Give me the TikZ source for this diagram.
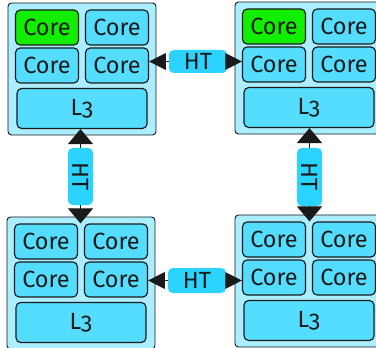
\documentclass[tikz,border=0pt]{standalone}
\usepackage{fontspec}
\setmainfont{Fira Sans}[Numbers=OldStyle]
\usetikzlibrary{arrows.meta, positioning}
\definecolor{chipblue}{HTML}{aaeeff}
\definecolor{coreblue}{HTML}{55ddff}
\definecolor{htblue}{HTML}{2ad4ff}
\definecolor{hotgreen}{HTML}{11ee00}
\definecolor{darkline}{HTML}{1a1a1a}

\begin{document}
\begin{tikzpicture}[x=0.03cm, y=-0.03cm, font=\fontsize{20}{24}\selectfont, text=darkline,
	chip/.style={draw=darkline, fill=chipblue, rounded corners=3pt, line width=0.8pt, minimum width=4.44cm, minimum height=3.96cm},
	core/.style={draw=darkline, fill=coreblue, rounded corners=4pt, line width=1pt, minimum width=1.89cm, minimum height=1.05cm, inner sep=0pt},
	cache/.style={core, minimum width=3.9cm, minimum height=1.2cm},
	htlink/.style={fill=htblue, rounded corners=4pt, inner sep=0pt},
	hlink/.style={-{Triangle[length=0.5cm, width=0.5cm]}, line width=1pt, darkline},
	vlink/.style={-{Triangle[length=0.45cm, width=0.75cm]}, line width=1pt, darkline}]
					\clip (0,0) rectangle (376,347);
					% four processors
					\foreach \n/\x/\y/\hot in {tl/82/69/hotgreen, tr/309/68/hotgreen, bl/81/283/coreblue, br/309/281/coreblue}{
						\begin{scope}[shift={(\x,\y)}]
							\node[chip] (\n) at (0,0) {};
							\node[core, fill=\hot] (\n-c1) at (-35,-41.5) {Core};
							\node[core] (\n-c2) at (35,-41.5) {Core};
							\node[core] (\n-c3) at (-35,-3.5) {Core};
							\node[core] (\n-c4) at (35,-3.5) {Core};
							\node[cache] (\n-l3) at (0,39.5) {L3};
						\end{scope}
					}
					% HyperTransport links
					\node[htlink, minimum width=1.74cm, minimum height=0.69cm] (ht-top) at (198,61.5) {HT};
					\node[htlink, minimum width=1.74cm, minimum height=0.75cm] (ht-bot) at (197,280.5) {HT};
					\node[htlink, minimum width=0.75cm, minimum height=1.71cm] (ht-left) at (80.5,176.5) {\rotatebox{-90}{HT}};
					\node[htlink, minimum width=0.75cm, minimum height=1.74cm] (ht-right) at (309.5,177) {\rotatebox{-90}{HT}};
					\draw[hlink] (ht-top.west) -- (ht-top.west -| tl-c4.east);
					\draw[hlink] (ht-top.east) -- (ht-top.east -| tr-c3.west);
					\draw[hlink] (ht-bot.west) -- (ht-bot.west -| bl-c4.east);
					\draw[hlink] (ht-bot.east) -- (ht-bot.east -| br-c3.west);
					\draw[vlink] (ht-left.north) -- (ht-left.north |- tl-l3.south);
					\draw[vlink] (ht-left.south) -- (ht-left.south |- bl-c1.north);
					\draw[vlink] (ht-right.north) -- (ht-right.north |- tr-l3.south);
					\draw[vlink] (ht-right.south) -- (ht-right.south |- br-c1.north);
				\end{tikzpicture}
\end{document}
